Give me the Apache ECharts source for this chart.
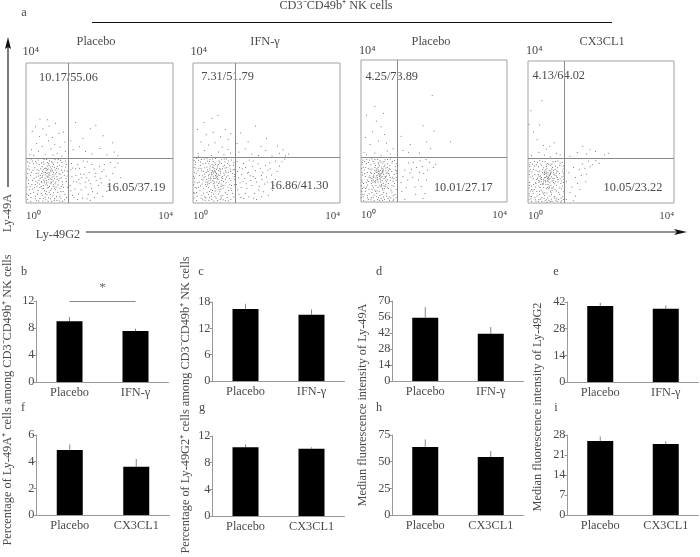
<!DOCTYPE html>
<html>
<head>
<meta charset="utf-8">
<title>Ly-49 NK cells</title>
<script src="https://cdn.jsdelivr.net/npm/echarts@6/dist/echarts.min.js"></script>
<style>
  html, body { margin: 0; padding: 0; background: #fff; }
  #chart { width: 700px; height: 557px; }
</style>
</head>
<body>
<div id="chart"></div>
<script>
// flow plots, values are log10 intensity (x, y in decades)
const dotsPlaceboIfn = [
[.62,.81],[.71,.74],[.55,.92],[.48,.66],[.83,.88],[.66,.55],[.39,.79],[.77,1.02],[.58,.43],[.92,.71],[.44,1.04],[.69,.97],[.31,.58],[.87,.52],[.52,.71],[.74,.63],[.61,1.12],[.35,.93],[.97,.94],[.42,.47],[.8,.38],[.57,.84],[.66,.69],[.49,.88],[.73,.82],[.6,.6],[.54,.52],[.84,.76],[.38,.69],[.68,.89],
[.28,.84],[.91,1.08],[.47,1.17],[.76,.47],[.63,.31],[.33,.36],[.99,.61],[.51,.99],[.7,1.18],[.86,1.15],[.24,1.01],[.41,.28],[.59,.74],[.65,.79],[.72,.92],[.56,.64],[.46,.79],[.78,.71],[.64,.47],[.53,.87],[.81,.6],[.36,1.1],[.95,.33],[.22,.71],[.67,.24],[.5,.35],[.88,.97],[.3,.48],[.75,1.1],[.43,.59],
[1.04,.79],[1.08,1.03],[1.02,.45],[.19,.93],[.16,.52],[.12,.79],[.1,1.14],[.21,.31],[.26,.19],[.09,.38],[.06,.66],[.14,.16],[.38,.13],[.52,.17],[.67,.12],[.83,.19],[.95,.14],[1.06,.24],[1.1,.62],[1.12,.91],[.05,.98],[.07,.22],[.03,.46],[.18,1.2],[.33,1.23],[.49,1.25],[.64,1.21],[.79,1.24],[.94,1.22],[1.07,1.2],[.29,.07],[.46,.06],[.6,.05],[.77,.08],[.91,.06],[1.05,.09],[.13,.05],[.04,.11],[.58,.95],[.45,.74],[.7,.58],[.62,.67],
[.34,.77],[.82,.46],[.55,.33],[.4,.98],[.9,.85],[.27,.62],[.75,.29],[.6,.88],[.5,.58],[.69,.41],[.44,.41],[.58,1.06],[.85,1.05],[.37,.54],[.97,.47],[.23,.44],[.66,1.03],[.53,.27],[.79,.94],[.47,.95],
[.21,1.36],[.34,1.48],[.52,1.39],[.68,1.55],[.85,1.42],[.98,1.34],[.44,1.62],[.29,1.71],[.61,1.78],[.78,1.68],[.93,1.6],[1.07,1.47],[.15,1.52],[.37,1.9],[.55,1.95],[.72,1.87],[.9,1.99],[.46,2.12],[.63,2.2],[.26,2.18],[.8,2.28],[.59,2.38],[.38,2.4],[.17,2.05],[1.02,2.03],[1.06,1.74],[.1,1.38],[.74,1.37],
[1.22,.95],[1.3,.62],[1.41,1.1],[1.5,.38],[1.58,.82],[1.67,1.18],[1.76,.55],[1.85,.97],[1.94,.28],[2.02,.71],[2.13,1.1],[2.24,.47],[2.36,.85],[1.27,.22],[1.36,.79],[1.46,.99],[1.54,.14],[1.63,.46],[1.72,.88],[1.81,.32],[1.91,.64],[2.0,1.05],[2.09,.19],[2.18,.77],[2.3,1.16],[1.24,1.13],[1.33,.4],[1.44,.67],[1.56,1.2],[1.69,.25],[1.79,1.1],[1.88,.75],[1.97,.5],[2.07,.9],[2.2,.33],[2.42,1.02],[1.2,.5],[1.4,.1],[1.61,.6],[1.75,.08],[2.5,1.14],[2.58,.72],
[1.28,1.52],[1.45,1.61],[1.62,1.47],[1.8,1.4],[2.01,1.56],[2.2,1.38],[2.4,1.46],[1.35,2.3],[1.75,2.12],[2.1,1.92],[2.35,1.72],[1.55,1.85],[1.22,1.78],[1.9,2.22],[2.5,1.35],
// denser core below the gate
[.57,.77],[.64,.86],[.51,.63],[.76,.77],[.43,.84],[.68,.6],[.6,.97],[.47,.5],[.79,.55],[.35,.64],[.89,.65],[.54,1.0],[.72,1.05],[.41,.72],[.61,.44],[.83,.99],[.28,.74],[.93,.82],[.49,1.11],[.66,.36],
[.38,.44],[.75,.88],[.56,.57],[.7,.67],[.45,.91],[.62,.74],[.52,.81],[.81,.83],[.33,.86],[.59,.51],[.67,.94],[.42,.62],[.85,.68],[.55,.98],[.74,.52],[.3,.95],[.96,.72],[.48,.42],[.63,1.08],[.78,.42],
[.25,.53],[.18,.65],[.11,.47],[.15,.88],[.09,.95],[.2,1.12],[.29,1.14],[.42,1.14],[.58,1.16],[.73,1.15],[.98,1.04],[1.05,.92],[1.09,.7],[1.0,.52],[.93,.42],[.86,.31],[.72,.2],[.57,.24],[.44,.22],[.31,.26],[.18,.4],[.07,.56],[.12,.27],[.35,.06],[.54,.09],[.69,.05],[.84,.07],[.99,.05],[1.1,.16],[.05,.84],
[.03,.26],[.02,.72],[.08,1.06],[.25,.12],[.47,.13],[.61,.15],[.78,.13],[.92,.2],[1.01,.33],[1.13,.45],[1.12,.77],[1.1,1.11],[.98,1.16],[.88,1.24],[.56,1.24],[.41,1.27],[.26,1.19],[.14,1.26],[.04,1.18],[1.0,.88],
[1.25,.75],[1.35,.98],[1.47,.55],[1.52,.72],[1.6,1.02],[1.71,.65],[1.78,.42],[1.9,.85],[2.05,.58],[2.12,.95],[2.28,.66],[1.22,.35],[1.31,.15],[1.43,.26],[1.66,.12],[1.86,.16],[1.26,1.0],[1.38,.6],[1.49,.83],[1.65,.72]
];
const dotsIfn = [
[.64,.84],[.52,.93],[.78,.72],[.43,.71],[.88,.92],[.7,.56],[.36,.88],[.82,1.05],[.58,.49],[.95,.78],[.47,1.06],[.73,.99],[.27,.66],[.9,.58],[.55,.76],[.68,.67],[.62,1.1],[.31,1.01],[1.01,.97],[.4,.52],[.76,.4],[.6,.9],[.66,.75],[.5,.83],[.75,.86],[.57,.62],[.49,.6],[.85,.8],[.33,.76],[.7,.93],
[.23,.92],[.94,1.13],[.45,1.19],[.79,.49],[.6,.34],[.29,.41],[1.03,.65],[.53,1.03],[.71,1.2],[.87,1.18],[.2,1.07],[.38,.31],[.61,.79],[.65,.83],[.74,.96],[.56,.7],[.44,.82],[.8,.76],[.67,.5],[.54,.9],[.83,.62],[.34,1.14],[.97,.36],[.18,.79],[.69,.26],[.48,.38],[.92,1.02],[.25,.54],[.77,1.13],[.41,.63],
[1.07,.84],[1.1,1.08],[1.05,.5],[.16,.99],[.13,.58],[.09,.85],[.07,1.17],[.19,.36],[.24,.22],[.06,.44],[.04,.71],[.11,.19],[.35,.15],[.5,.2],[.63,.14],[.81,.22],[.93,.16],[1.08,.27],[1.12,.68],[1.13,.95],[.03,1.02],[.05,.27],[.02,.52],[.15,1.22],[.3,1.26],[.46,1.24],[.61,1.27],[.77,1.25],[.91,1.26],[1.05,1.23],[.26,.09],[.43,.08],[.57,.06],[.74,.1],[.89,.07],[1.03,.11],[.1,.07],[.03,.14],[.59,.98],[.42,.78],[.72,.6],[.63,.72],
[.31,.83],[.84,.5],[.53,.36],[.38,1.03],[.9,.88],[.24,.68],[.73,.32],[.59,.92],[.47,.66],[.7,.44],[.42,.45],[.57,1.08],[.86,1.08],[.35,.6],[1.0,.52],[.21,.49],[.67,1.06],[.51,.3],[.8,.98],[.46,1.0],[.52,.8],[.6,.7],[.69,.8],[.56,.86],[.48,.74],[.37,.68],[.78,.64],[.65,.6],[.41,.9],[.55,.55],
[.14,1.42],[.32,1.5],[.5,1.36],[.69,1.46],[.84,1.38],[1.02,1.42],[.42,1.66],[.22,1.74],[.6,1.72],[.79,1.6],[.95,1.53],[.15,1.34],[.36,1.95],[.55,2.02],[.75,1.89],[.96,1.82],[.3,2.3],[.52,2.42],[.68,2.5],[.12,2.1],[1.03,1.98],[.88,2.1],
[1.21,.9],[1.28,.58],[1.37,1.13],[1.47,.42],[1.56,.78],[1.64,1.2],[1.73,.6],[1.83,.99],[1.92,.32],[2.0,.74],[2.09,1.15],[2.2,.5],[2.29,.9],[1.25,.25],[1.33,.82],[1.43,1.02],[1.52,.18],[1.6,.5],[1.7,.92],[1.79,.37],[1.88,.68],[1.97,1.08],[2.05,.22],[2.14,.8],[2.25,1.2],[1.2,1.18],[1.31,.44],[1.41,.7],[1.53,1.23],[1.67,.28],[1.77,1.12],[1.86,.79],[1.95,.54],[2.04,.94],[2.16,.36],[2.35,1.06],[1.18,.53],[1.38,.13],[1.58,.64],[1.73,.1],[2.42,1.18],[2.5,1.26],
[1.25,1.46],[1.42,1.55],[1.6,1.4],[1.78,1.36],[1.98,1.5],[2.15,1.34],[2.35,1.42],[2.52,1.35],[1.3,2.0],[1.7,2.2],[2.0,1.85],[2.3,1.63],[1.5,1.75],[1.2,1.7],[1.85,1.62],[2.6,1.4],[2.45,1.52],
// denser core below the gate
[.61,.88],[.49,.7],[.73,.79],[.39,.95],[.81,.7],[.54,.64],[.66,1.0],[.44,.56],[.77,.54],[.3,.72],[.91,.74],[.56,1.01],[.69,1.1],[.36,.47],[.62,.41],[.87,1.0],[.26,.78],[.96,.87],[.43,1.12],[.71,.38],
[.34,.53],[.74,.91],[.58,.57],[.67,.7],[.46,.94],[.63,.77],[.51,.87],[.84,.86],[.28,.9],[.59,.46],[.64,.96],[.4,.58],[.88,.68],[.52,1.1],[.76,.47],[.22,.99],[.99,.7],[.45,.33],[.6,1.15],[.82,.43],
[.17,.6],[.1,.43],[.14,.92],[.08,1.0],[.2,1.17],[.27,1.12],[.4,1.2],[.55,1.18],[.72,1.15],[1.0,1.08],[1.09,.95],[1.12,.76],[1.03,.42],[.95,.46],[.88,.29],[.76,.2],[.56,.26],[.42,.24],[.29,.28],[.15,.45],[.05,.6],[.1,.3],[.33,.08],[.51,.11],[.67,.07],[.82,.09],[.97,.06],[1.11,.18],[.04,.88],[.02,.3],
[.02,.76],[.06,1.1],[.22,.14],[.45,.15],[.6,.18],[.77,.14],[.93,.24],[1.04,.36],[1.13,.52],[1.13,.82],[1.11,1.15],[.97,1.2],[.85,1.26],[.53,1.26],[.38,1.28],[.23,1.24],[.1,1.28],[.03,1.22],[1.02,.9],[.32,.18],
[1.24,.72],[1.34,.98],[1.45,.55],[1.51,.88],[1.62,1.05],[1.7,.7],[1.8,.48],[1.9,.88],[2.02,.6],[2.1,.98],[2.24,.68],[1.22,.38],[1.3,.16],[1.42,.28],[1.65,.14],[1.86,.18],[1.26,1.02],[1.36,.62],[1.48,.86],[1.64,.76]
];
const dotsPlaceboCx = [
[.52,.74],[.41,.85],[.63,.66],[.33,.62],[.72,.82],[.56,.5],[.28,.8],[.68,.96],[.47,.42],[.8,.7],[.38,.97],[.6,.88],[.2,.58],[.75,.52],[.45,.68],[.58,.6],[.5,1.02],[.25,.92],[.84,.86],[.31,.46],[.64,.38],[.49,.8],[.55,.7],[.42,.74],[.62,.78],[.47,.56],[.39,.54],[.7,.73],[.26,.68],[.59,.84],
[.17,.84],[.79,1.03],[.36,1.09],[.66,.44],[.5,.3],[.22,.36],[.88,.58],[.44,.94],[.6,1.1],[.73,1.08],[.13,.98],[.3,.27],[.51,.72],[.54,.76],[.61,.9],[.46,.63],[.35,.76],[.67,.68],[.56,.46],[.43,.83],[.7,.57],[.27,1.05],[.82,.33],[.12,.72],[.58,.22],[.38,.34],[.77,.94],[.18,.48],[.65,1.04],[.33,.56],
[.91,.78],[.94,1.0],[.9,.44],[.09,.9],[.07,.52],[.04,.76],[.03,1.07],[.12,.3],[.17,.18],[.04,.38],[.02,.62],[.06,.15],[.28,.12],[.42,.16],[.55,.1],[.7,.17],[.82,.12],[.93,.22],[.96,.62],[.97,.87],[.02,.94],[.03,.22],[.01,.46],[.1,1.14],[.24,1.18],[.38,1.2],[.52,1.16],[.66,1.19],[.8,1.21],[.92,1.17],[.2,.07],[.36,.05],[.5,.04],[.64,.07],[.78,.05],[.9,.08],[.07,.05],[.01,.12],[.48,.9],[.35,.7],[.61,.53],[.53,.63],
[.24,.74],[.72,.42],[.44,.32],[.3,.93],[.76,.8],[.18,.62],[.62,.27],[.5,.85],[.4,.6],[.59,.38],[.34,.4],[.47,.98],[.72,.98],[.28,.52],[.85,.47],[.15,.42],[.56,.96],[.43,.25],[.68,.88],[.38,.9],
[.15,1.33],[.38,1.38],[.55,1.3],[.72,1.44],[.25,1.62],[.48,1.72],[.65,1.9],[.8,1.35],[.12,1.82],[.32,1.98],[.55,2.12],[.42,2.28],[.88,1.5],[.7,1.66],[.62,2.5],[.38,2.7],[.15,2.45],[.08,1.4],
[1.1,.55],[1.2,.9],[1.3,1.1],[1.42,.7],[1.52,.98],[1.62,1.16],[1.72,.8],[1.15,.72],[1.28,.62],[1.38,.92],[1.48,.42],[1.58,.62],[1.68,1.0],[1.78,1.2],[1.88,1.12],[1.98,.98],[1.24,.4],[1.34,.82],[1.44,1.12],[1.6,.84],[1.82,.9],[1.12,.3],[1.65,.44],[1.8,.62],[2.05,1.06],[1.75,.24],[1.2,.08],[1.7,.1],[1.5,.22],
[1.15,1.45],[1.35,1.62],[1.6,1.38],[1.9,1.5],[1.1,1.85],[2.0,2.0],[1.7,2.15],[2.45,1.7],[1.3,1.4],[1.8,1.7],[1.95,3.0],
// denser core below the gate
[.5,.78],[.44,.63],[.57,.82],[.37,.8],[.66,.72],[.53,.56],[.6,.94],[.41,.47],[.73,.63],[.29,.6],[.78,.76],[.47,.86],[.63,1.0],[.33,.72],[.55,.43],[.8,.92],[.22,.7],[.86,.7],[.4,1.03],[.6,.34],
[.3,.36],[.69,.82],[.52,.66],[.58,.72],[.43,.9],[.55,.8],[.46,.76],[.75,.88],[.26,.84],[.52,.47],[.6,.85],[.38,.58],[.8,.62],[.48,1.07],[.68,.5],[.2,.95],[.9,.66],[.4,.3],[.55,1.13],[.75,.38],
[.15,.55],[.08,.42],[.1,.8],[.06,.98],[.15,1.08],[.21,1.12],[.33,1.14],[.47,1.12],[.63,1.14],[.85,1.1],[.94,.9],[.97,.7],[.92,.52],[.85,.28],[.7,.23],[.52,.18],[.36,.2],[.23,.23],[.12,.38],[.03,.56],[.08,.22],[.27,.06],[.45,.08],[.59,.05],[.74,.1],[.88,.04],[.96,.12],[.03,.84],[.02,.3],[.05,1.18],
[.18,.12],[.33,.14],[.48,.12],[.62,.14],[.77,.15],[.88,.18],[.96,.36],[.98,.8],[.96,1.08],[.86,1.15],[.73,1.2],[.45,1.2],[.3,1.22],[.16,1.2],[.04,1.12],[.3,.66],[.41,.68],[.53,.89],[.68,.62],[.63,.46]
];
const dotsCx3cl1 = [
[.55,.7],[.44,.82],[.66,.62],[.36,.6],[.74,.78],[.58,.48],[.3,.76],[.7,.92],[.5,.4],[.82,.66],[.4,.94],[.62,.84],[.22,.55],[.78,.5],[.47,.64],[.6,.57],[.52,.98],[.27,.88],[.86,.83],[.33,.44],[.66,.36],[.51,.76],[.57,.66],[.45,.71],[.64,.74],[.49,.53],[.41,.52],[.72,.69],[.28,.64],[.61,.8],
[.19,.8],[.81,.99],[.38,1.05],[.68,.42],[.52,.28],[.24,.33],[.9,.55],[.46,.9],[.62,1.06],[.75,1.04],[.15,.95],[.32,.24],[.53,.68],[.56,.72],[.63,.86],[.48,.6],[.37,.72],[.69,.64],[.58,.44],[.45,.8],[.72,.54],[.29,1.02],[.84,.3],[.14,.68],[.6,.2],[.4,.31],[.79,.9],[.2,.45],[.67,1.0],[.35,.52],
[.93,.74],[.96,.96],[.92,.4],[.11,.87],[.09,.48],[.06,.73],[.05,1.03],[.14,.27],[.19,.15],[.06,.34],[.04,.58],[.08,.12],[.3,.1],[.44,.13],[.57,.08],[.72,.14],[.84,.1],[.95,.18],[.97,.58],[.98,.84],[.04,.9],[.05,.2],[.03,.42],[.12,1.1],[.26,1.15],[.4,1.17],[.54,1.12],[.68,1.16],[.82,1.18],[.94,1.14],[.22,.05],[.38,.04],[.52,.03],[.66,.05],[.8,.04],[.92,.06],[.09,.04],[.03,.09],[.5,.87],[.37,.66],[.63,.5],[.55,.6],
[.26,.7],[.74,.38],[.46,.29],[.32,.9],[.78,.76],[.2,.58],[.64,.24],[.52,.82],[.42,.56],[.61,.34],[.36,.36],[.49,.94],[.74,.95],[.3,.48],[.87,.43],[.17,.38],[.58,.92],[.45,.22],[.7,.85],[.4,.86],
[.1,1.34],[.3,1.42],[.45,1.35],[.62,1.3],[.78,1.4],[.42,1.62],[.25,1.78],[.6,1.6],[.72,1.7],[.15,2.0],[.5,1.52],[.03,2.22],[.88,1.36],[.38,2.88],[.08,2.6],[.32,2.2],
[1.05,.6],[1.12,.85],[1.2,.45],[1.3,.72],[1.4,.95],[1.5,1.1],[1.6,.82],[1.7,1.02],[1.25,1.0],[1.36,.55],[1.46,.78],[1.56,.98],[1.66,1.18],[1.76,1.08],[1.86,1.2],[1.95,1.12],[1.15,.3],[1.3,.2],[1.42,.38],[1.58,.6],[1.05,.1],[1.24,.06],
[1.15,1.32],[1.35,1.42],[1.6,1.38],[1.85,1.45],[2.1,1.36],[1.7,1.5],[2.2,1.4],[1.5,1.6],
// denser core below the gate
[.52,.74],[.42,.67],[.59,.78],[.34,.76],[.68,.7],[.55,.52],[.63,.9],[.43,.44],[.75,.6],[.3,.58],[.8,.72],[.49,.84],[.65,.96],[.34,.68],[.57,.4],[.82,.88],[.24,.66],[.88,.68],[.42,.99],[.63,.3],
[.32,.33],[.71,.8],[.54,.63],[.6,.69],[.45,.86],[.57,.76],[.48,.72],[.77,.84],[.28,.8],[.54,.44],[.61,.82],[.4,.54],[.82,.59],[.5,1.03],[.7,.46],[.22,.92],[.92,.62],[.42,.26],[.57,1.09],[.77,.34],
[.16,.52],[.1,.38],[.12,.76],[.07,.94],[.17,1.04],[.23,1.08],[.35,1.1],[.5,1.08],[.65,1.1],[.87,1.06],[.95,.88],[.98,.66],[.94,.48],[.87,.24],[.72,.18],[.54,.14],[.38,.16],[.25,.2],[.13,.34],[.04,.5],[.09,.18],[.29,.05],[.47,.06],[.61,.04],[.76,.08],[.9,.03],[.97,.1],[.04,.8],[.03,.26],[.06,1.14],
[.2,.09],[.35,.11],[.5,.09],[.64,.11],[.79,.12],[.9,.14],[.97,.32],[.98,.76],[.97,1.04],[.88,1.12],[.75,1.17],[.47,1.16],[.32,1.19],[.18,1.17],[.05,1.08],[.32,.62],[.43,.62],[.55,.85],[.7,.58],[.65,.42]
];
const flowDots = [dotsPlaceboIfn, dotsIfn, dotsPlaceboCx, dotsCx3cl1];
const flowTitles = ['Placebo', 'IFN-γ', 'Placebo', 'CX3CL1'];
const gateX = [1.15, 1.15, 1.0, 0.99];
const gateY = [1.28, 1.31, 1.26, 1.26];
const upperLabels = ['10.17/55.06', '7.31/51.79', '4.25/73.89', '4.13/64.02'];
const lowerLabels = ['16.05/37.19', '16.86/41.30', '10.01/27.17', '10.05/23.22'];
const logTicks = {0: '10⁰', 4: '10⁴'};

// bar panels
const catsIfn = ['Placebo', 'IFN-γ'];
const catsCx = ['Placebo', 'CX3CL1'];
const barsB = [9.0, 7.56],    errB = [9.63, 7.9];
const barsC = [16.4, 15.1],   errC = [17.6, 16.3];
const barsD = [55.4, 41.4],   errD = [64.7, 47.2];
const barsE = [39.9, 38.5],   errE = [41.6, 40.2];
const barsF = [4.87, 3.62],   errF = [5.3, 4.2];
const barsG = [10.3, 10.1],   errG = [10.75, 10.3];
const barsH = [63.8, 54.4],   errH = [70.9, 60];
const barsI = [25.9, 24.85],  errI = [27.5, 25.8];

const FONT = '"Liberation Serif", serif';
const TXT = '#4a4a4a';
const AX = '#999';

const flowBoxes = [
  {left: 26, top: 63, width: 147, height: 140},
  {left: 193, top: 63, width: 147, height: 140},
  {left: 361, top: 60, width: 146, height: 142},
  {left: 528, top: 61, width: 146, height: 142}
];
const barPanels = [
  {left: 36.5, top: 301, width: 132, height: 81, cats: catsIfn, bars: barsB, err: errB, max: 12, step: 4},
  {left: 212.5, top: 302, width: 132, height: 79, cats: catsIfn, bars: barsC, err: errC, max: 18, step: 6},
  {left: 392.5, top: 301, width: 131, height: 80, cats: catsIfn, bars: barsD, err: errD, max: 70, step: 14},
  {left: 567.5, top: 302, width: 131, height: 80, cats: catsIfn, bars: barsE, err: errE, max: 42, step: 14},
  {left: 36.5, top: 435, width: 133, height: 80, cats: catsCx, bars: barsF, err: errF, max: 6, step: 2},
  {left: 212.5, top: 436, width: 132, height: 80, cats: catsCx, bars: barsG, err: errG, max: 12, step: 4},
  {left: 392.5, top: 435, width: 131, height: 80, cats: catsCx, bars: barsH, err: errH, max: 75, step: 25},
  {left: 567.5, top: 435, width: 131, height: 80, cats: catsCx, bars: barsI, err: errI, max: 28, step: 7}
];

const grid = [], xAxis = [], yAxis = [], series = [];

flowBoxes.forEach((box, i) => {
  grid.push({...box, show: true, borderColor: '#a3a3a3', borderWidth: 1, backgroundColor: '#fff'});
  xAxis.push({
    gridIndex: i, type: 'value', min: 0, max: 4, interval: 4,
    axisLine: {show: false}, axisTick: {show: false}, splitLine: {show: false},
    axisLabel: {
      color: TXT, fontFamily: FONT, fontSize: 11, margin: 8,
      alignMinLabel: 'left', alignMaxLabel: 'right',
      formatter: v => logTicks[v]
    }
  });
  yAxis.push({
    gridIndex: i, type: 'value', min: 0, max: 4, interval: 4,
    axisLine: {show: false}, axisTick: {show: false}, splitLine: {show: false},
    axisLabel: {show: false}
  });
  series.push({
    type: 'scatter', xAxisIndex: i, yAxisIndex: i, data: flowDots[i],
    symbolSize: 1, silent: true,
    itemStyle: {color: '#444', opacity: 0.9},
    markLine: {
      silent: true, symbol: 'none', animation: false, label: {show: false},
      lineStyle: {color: '#8a8a8a', width: 1, type: 'solid'},
      data: [{xAxis: gateX[i]}, {yAxis: gateY[i]}]
    }
  });
});

// error bars only go upwards in this figure
function upperWhisker(params, api) {
  const base = api.coord([api.value(0), api.value(1)]);
  const tip = api.coord([api.value(0), api.value(2)]);
  return {
    type: 'line',
    shape: {x1: base[0], y1: base[1], x2: tip[0], y2: tip[1]},
    style: {stroke: '#888', lineWidth: 1}
  };
}

barPanels.forEach((p, n) => {
  const i = n + flowBoxes.length;
  grid.push({left: p.left, top: p.top, width: p.width, height: p.height});
  xAxis.push({
    gridIndex: i, type: 'category', data: p.cats,
    axisLine: {lineStyle: {color: AX}},
    axisTick: {length: 2, lineStyle: {color: AX}},
    axisLabel: {color: TXT, fontFamily: FONT, fontSize: 12.3, margin: 5, interval: 0}
  });
  yAxis.push({
    gridIndex: i, type: 'value', min: 0, max: p.max, interval: p.step,
    axisLine: {show: true, lineStyle: {color: AX}},
    axisTick: {show: true, length: 3, lineStyle: {color: AX}},
    splitLine: {show: false},
    axisLabel: {color: TXT, fontFamily: FONT, fontSize: 12.3, margin: 2}
  });
  const barSeries = {
    type: 'bar', xAxisIndex: i, yAxisIndex: i, data: p.bars, barWidth: 26,
    silent: true, itemStyle: {color: '#000'}
  };
  if (n === 0) {
    // significance bracket on panel b
    barSeries.markLine = {
      silent: true, symbol: 'none', animation: false,
      lineStyle: {color: '#888', width: 1, type: 'solid'},
      label: {show: true, position: 'middle', formatter: '*', color: '#666', fontFamily: FONT, fontSize: 13, distance: 7},
      data: [[{xAxis: p.cats[0], yAxis: p.max}, {xAxis: p.cats[1], yAxis: p.max}]]
    };
  }
  series.push(barSeries);
  series.push({
    type: 'custom', xAxisIndex: i, yAxisIndex: i, silent: true,
    data: p.bars.map((b, k) => [k, b, p.err[k]]),
    encode: {x: 0, y: [1, 2]},
    renderItem: upperWhisker
  });
});

function label(text, x, y, rot) {
  return {
    type: 'text', x: x, y: y, rotation: rot || 0, silent: true,
    style: {text: text, fill: TXT, font: '12.3px ' + FONT, textAlign: 'center', textVerticalAlign: 'middle'}
  };
}
const UP = Math.PI / 2;
const annotations = [
  label('a', 24, 13),
  label('CD3⁻CD49b⁺ NK cells', 336, 6),
  label(flowTitles[0], 96, 42), label(flowTitles[1], 265, 42), label(flowTitles[2], 431, 42), label(flowTitles[3], 602, 42),
  label(logTicks[4], 30.7, 52), label(logTicks[4], 198.7, 52), label(logTicks[4], 367.2, 51), label(logTicks[4], 534.2, 51),
  label(upperLabels[0], 68.5, 78), label(upperLabels[1], 227.5, 77), label(upperLabels[2], 391.7, 77), label(upperLabels[3], 558.7, 76),
  label(lowerLabels[0], 136, 188), label(lowerLabels[1], 299, 186), label(lowerLabels[2], 463.3, 188), label(lowerLabels[3], 633, 188),
  label('Ly-49A', 8, 213, UP),
  label('Ly-49G2', 58, 235),
  label('b', 24, 272), label('c', 201, 272), label('d', 379, 272), label('e', 556, 272),
  label('f', 23, 408), label('g', 202, 408), label('h', 379, 408), label('i', 556, 408),
  label('Percentage of Ly-49A⁺ cells among CD3⁻CD49b⁺ NK cells', 7.5, 400, UP),
  label('Percentage of Ly-49G2⁺ cells among CD3⁻CD49b⁺ NK cells', 185.5, 405, UP),
  label('Median fluorescence intensity of Ly-49A', 362.5, 405, UP),
  label('Median fluorescence intensity of Ly-49G2', 537.5, 407, UP),
  // bracket over the flow plots and the two axis arrows
  {type: 'line', silent: true, shape: {x1: 92, y1: 22.5, x2: 612, y2: 22.5}, style: {stroke: '#111', lineWidth: 1.2}},
  {type: 'line', silent: true, shape: {x1: 8, y1: 187, x2: 8, y2: 46}, style: {stroke: '#222', lineWidth: 1.2}},
  {type: 'polygon', silent: true, shape: {points: [[8, 37], [11, 49], [8, 47], [5, 49]]}, style: {fill: '#111'}},
  {type: 'line', silent: true, shape: {x1: 86, y1: 232, x2: 678, y2: 232}, style: {stroke: '#222', lineWidth: 1.2}},
  {type: 'polygon', silent: true, shape: {points: [[687, 232], [674, 229], [677, 232], [674, 235]]}, style: {fill: '#111'}}
];

const chart = echarts.init(document.getElementById('chart'), null, {renderer: 'canvas'});
chart.setOption({
  animation: false,
  backgroundColor: '#fff',
  textStyle: {fontFamily: FONT},
  grid: grid,
  xAxis: xAxis,
  yAxis: yAxis,
  series: series,
  graphic: {elements: annotations}
});
</script>
</body>
</html>
